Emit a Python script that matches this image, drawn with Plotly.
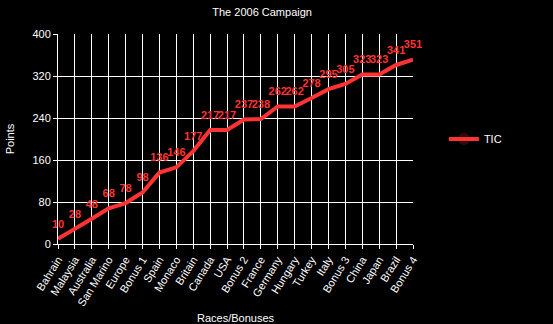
import plotly.graph_objects as go

races = ["Bahrain", "Malaysia", "Australia", "San Marino", "Europe", "Bonus 1",
         "Spain", "Monaco", "Britain", "Canada", "USA", "Bonus 2", "France",
         "Germany", "Hungary", "Turkey", "Italy", "Bonus 3", "China", "Japan",
         "Brazil", "Bonus 4"]
points = [10, 28, 48, 68, 78, 98, 136, 146, 177, 217, 217, 237, 238, 262, 262,
          278, 295, 305, 323, 323, 341, 351]

red = "#ff3333"
fig = go.Figure()
fig.add_trace(go.Scatter(
    x=list(range(len(races))), y=points, mode="lines+markers+text", name="TIC",
    line=dict(color=red, width=4),
    marker=dict(size=12, color=red, opacity=0),
    text=["<b>%d</b>" % v for v in points], textposition="top center",
    textfont=dict(color=red, size=11, family="Liberation Sans"),
    cliponaxis=False,
))

fig.update_layout(
    width=553, height=324,
    paper_bgcolor="black", plot_bgcolor="black",
    margin=dict(l=58, r=140, t=34, b=80, autoexpand=False),
    font=dict(family="Liberation Sans, Arial, sans-serif", color="white", size=11),
    title=dict(text="The 2006 Campaign", xref="container", x=0.474, xanchor="center",
               y=0.975, yanchor="top", font=dict(size=11, color="white")),
    showlegend=True,
    legend=dict(x=1.087, xanchor="left", y=0.5, yanchor="middle",
                font=dict(size=11, color="white"), bgcolor="rgba(0,0,0,0)"),
    xaxis=dict(
        title=dict(text="Races/Bonuses", font=dict(size=11, color="white")),
        tickmode="array", tickvals=list(range(len(races))), ticktext=races,
        tickangle=-58, range=[0, len(races) - 1], automargin=False,
        showgrid=True, gridcolor="white", gridwidth=1,
        showline=True, linecolor="white", linewidth=1,
        ticks="outside", tickcolor="white", ticklen=4,
        tickfont=dict(size=11, color="white"), zeroline=False,
    ),
    yaxis=dict(
        title=dict(text="Points", font=dict(size=11, color="white")),
        range=[0, 400], tickmode="linear", tick0=0, dtick=80, automargin=False,
        showgrid=True, gridcolor="white", gridwidth=1,
        showline=True, linecolor="white", linewidth=1,
        ticks="outside", tickcolor="white", ticklen=4,
        tickfont=dict(size=11, color="white"), zeroline=False,
    ),
)

fig.write_html("out.html")
